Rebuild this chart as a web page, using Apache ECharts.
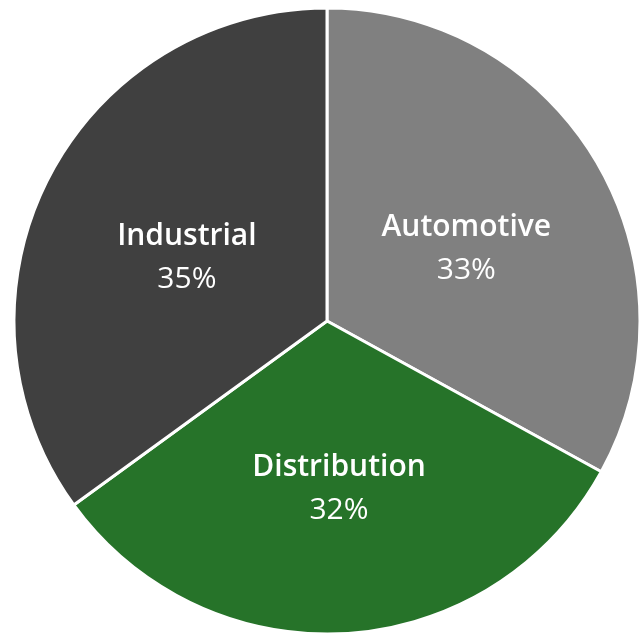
<!DOCTYPE html>
<html>
<head>
<meta charset="utf-8">
<script src="https://cdn.jsdelivr.net/npm/echarts@6/dist/echarts.min.js"></script>
<style>html,body{margin:0;padding:0;background:#fff;}#c{width:641px;height:634px;}</style>
</head>
<body>
<div id="c"></div>
<script>
const categories = ["Automotive", "Distribution", "Industrial"];
const values = [33, 32, 35];
const colors = ["#808080", "#267329", "#404040"];

const chart = echarts.init(document.getElementById('c'), null, {renderer: 'canvas'});
chart.setOption({
  animation: false,
  series: [{
    type: 'pie',
    center: [327, 321],
    radius: [0, 313],
    startAngle: 90,
    clockwise: true,
    data: categories.map((c, i) => ({name: c, value: values[i], itemStyle: {color: colors[i]}})),
    itemStyle: {borderColor: '#fff', borderWidth: 3},
    label: {
      position: 'inside',
      offset: [2, 9],
      formatter: '{n|{b}}\n{p|{d}%}',
      rich: {
        n: {fontFamily: 'Open Sans', fontSize: 30, fontWeight: 600, color: '#fff', lineHeight: 43},
        p: {fontFamily: 'Open Sans', fontSize: 30, fontWeight: 400, color: '#fff', lineHeight: 43}
      }
    },
    labelLine: {show: false},
    emphasis: {disabled: true}
  }]
});
</script>
</body>
</html>
